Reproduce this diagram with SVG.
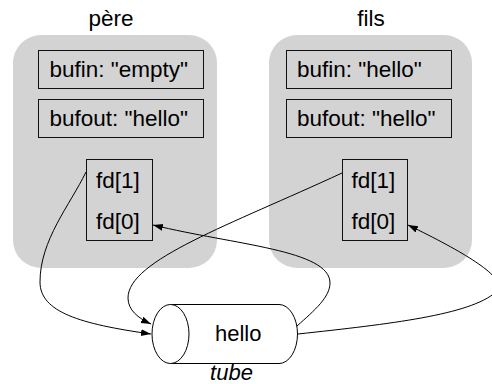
<svg xmlns="http://www.w3.org/2000/svg" width="492" height="384" viewBox="0 0 492 384">
<style>
.panel{fill:#d3d3d3;stroke:none}
.box{fill:none;stroke:#111;stroke-width:1}
.t{font-family:"Liberation Sans",Arial,sans-serif;font-size:22.5px;fill:#000}
.c{text-anchor:middle}
.edge{fill:none;stroke:#000;stroke-width:1}
</style>
<defs>
<marker id="ah" viewBox="0 0 10 10" refX="10" refY="5" markerWidth="10" markerHeight="10" markerUnits="userSpaceOnUse" orient="auto">
<path d="M0,1.5 L10,5 L0,8.5 Z" fill="#000"/>
</marker>
</defs>
<rect width="492" height="384" fill="#fff"/>
<g id="pere">
<text class="t c" x="111" y="26">père</text>
<rect class="panel" x="13" y="35" width="204" height="233" rx="28"/>
<g id="pere-bufin"><rect class="box" x="38.5" y="50.5" width="165" height="38"/><text class="t" x="49.5" y="77">bufin: "empty"</text></g>
<g id="pere-bufout"><rect class="box" x="38.5" y="99.5" width="165" height="38"/><text class="t" x="49.5" y="126">bufout: "hello"</text></g>
<g id="pere-fd"><rect class="box" x="86.5" y="159.5" width="66" height="81"/><text class="t" x="96" y="188">fd[1]</text><text class="t" x="96" y="229">fd[0]</text></g>
</g>
<g id="fils">
<text class="t c" x="371" y="26">fils</text>
<rect class="panel" x="269" y="35" width="203" height="233" rx="28"/>
<g id="fils-bufin"><rect class="box" x="286.5" y="50.5" width="165" height="38"/><text class="t" x="297" y="77">bufin: "hello"</text></g>
<g id="fils-bufout"><rect class="box" x="286.5" y="99.5" width="165" height="38"/><text class="t" x="297" y="126">bufout: "hello"</text></g>
<g id="fils-fd"><rect class="box" x="342.5" y="159.5" width="65" height="81"/><text class="t" x="351.5" y="188">fd[1]</text><text class="t" x="351.5" y="229">fd[0]</text></g>
</g>
<g id="tube">
<path d="M170.5,304.5 H279 A18.5,29.5 0 0 1 279,363.5 H170.5" fill="#fff" stroke="#000" stroke-width="1"/>
<ellipse cx="170.5" cy="334" rx="18.5" ry="29.5" fill="#fff" stroke="#000" stroke-width="1"/>
<text class="t" x="215" y="341" style="font-size:22px">hello</text>
<text class="t c" x="231.5" y="380" font-style="italic" style="font-size:22px">tube</text>
</g>
<g id="connectors">
<path class="edge" marker-end="url(#ah)" d="M86,172 C70,205 40,240 40,282 C40,312 80,324 151,334"/>
<path class="edge" marker-end="url(#ah)" d="M342,173 C230,225 128,260 128,298 C128,310 138,318 151,324"/>
<path class="edge" marker-end="url(#ah)" d="M297,326 C315,310 330,297 330,283 C330,250 235,245 153,225"/>
<path class="edge" marker-end="url(#ah)" d="M298,334 C390,324 470,315 496,292 C510,280 470,255 408,225"/>
</g>
</svg>
